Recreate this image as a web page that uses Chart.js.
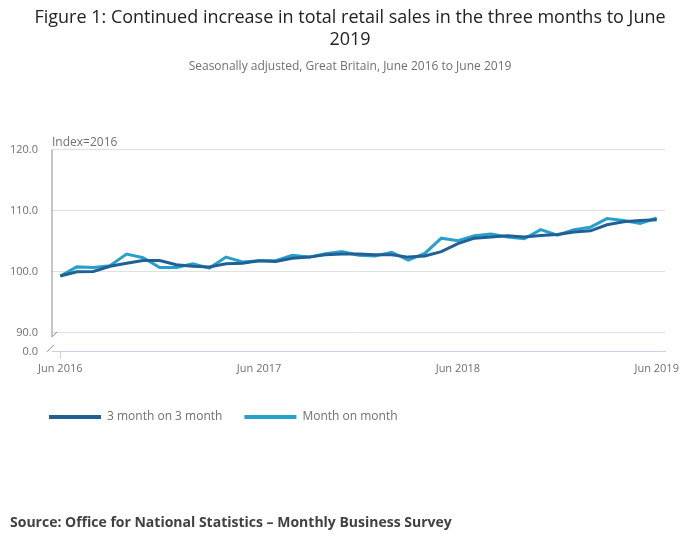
<!DOCTYPE html>
<html>
<head>
<meta charset="utf-8">
<script src="https://cdn.jsdelivr.net/npm/chart.js@4"></script>
<style>
  body { margin: 0; background: #fff; }
  #wrap { position: relative; width: 700px; height: 549px; }
  #source { position: absolute; left: 10px; top: 512px; font: bold 14px "Open Sans", sans-serif; color: #414042; }
</style>
</head>
<body>
<div id="wrap">
  <canvas id="retailChart"></canvas>
  <div id="source">Source: Office for National Statistics – Monthly Business Survey</div>
</div>
<script>
var months = ['Jun 2016','Jul 2016','Aug 2016','Sep 2016','Oct 2016','Nov 2016','Dec 2016',
  'Jan 2017','Feb 2017','Mar 2017','Apr 2017','May 2017','Jun 2017','Jul 2017','Aug 2017','Sep 2017','Oct 2017','Nov 2017','Dec 2017',
  'Jan 2018','Feb 2018','Mar 2018','Apr 2018','May 2018','Jun 2018','Jul 2018','Aug 2018','Sep 2018','Oct 2018','Nov 2018','Dec 2018',
  'Jan 2019','Feb 2019','Mar 2019','Apr 2019','May 2019','Jun 2019'];

var threeMonth = [99.3, 100.0, 100.05, 100.9, 101.4, 101.85, 101.85,
  101.15, 100.9, 100.8, 101.3, 101.4, 101.8, 101.7, 102.2, 102.4, 102.8, 102.9, 102.9,
  102.8, 102.8, 102.4, 102.6, 103.3, 104.6, 105.5, 105.7, 105.9, 105.7, 105.95, 106.1,
  106.5, 106.7, 107.7, 108.2, 108.4, 108.5];

var monthOnMonth = [99.3, 100.8, 100.7, 101.0, 102.9, 102.3, 100.7,
  100.7, 101.3, 100.6, 102.4, 101.6, 101.8, 101.8, 102.7, 102.4, 102.95, 103.3, 102.7,
  102.6, 103.2, 101.9, 103.0, 105.5, 105.1, 105.9, 106.2, 105.7, 105.4, 106.9, 106.0,
  106.9, 107.3, 108.7, 108.4, 107.9, 108.8];

var xTickLabels = ['Jun 2016', 'Jun 2017', 'Jun 2018', 'Jun 2019'];
var yTicks = [90, 100, 110, 120];
var yBreak = 86.9; // where the "0.0" sits below the axis break

var darkBlue = '#206095';
var lightBlue = '#27a0cc';

// y axis line with the little break marks, plus the "Index=2016" label
var axisExtras = {
  id: 'axisExtras',
  afterLayout: function(chart) {
    // nudge the legend right so it starts under the axis
    chart.legend.left += 17;
  },
  afterDraw: function(chart) {
    var ctx = chart.ctx;
    var area = chart.chartArea;
    var y = chart.scales.y;
    var x0 = area.left;
    var y90 = y.getPixelForValue(90);
    ctx.save();
    ctx.strokeStyle = '#8c8c8c';
    ctx.lineWidth = 1;
    ctx.beginPath();
    ctx.moveTo(x0, area.top);
    ctx.lineTo(x0, y90 + 4);
    ctx.lineTo(x0 + 5, y90 - 1);
    ctx.moveTo(x0 - 5, area.bottom);
    ctx.lineTo(x0 + 2, area.bottom - 7);
    ctx.stroke();
    ctx.fillStyle = '#707070';
    ctx.font = '12px "Open Sans"';
    ctx.textBaseline = 'bottom';
    ctx.textAlign = 'left';
    ctx.fillText('Index=2016', x0, area.top - 1);
    ctx.restore();
  }
};

var config = {
  type: 'line',
  data: {
    labels: months,
    datasets: [
      { label: '3 month on 3 month', data: threeMonth, borderColor: darkBlue, backgroundColor: darkBlue },
      { label: 'Month on month', data: monthOnMonth, borderColor: lightBlue, backgroundColor: lightBlue }
    ]
  },
  options: {
    responsive: true,
    maintainAspectRatio: false,
    animation: false,
    elements: {
      line: { borderWidth: 3, tension: 0 },
      point: { radius: 0 }
    },
    layout: { padding: { left: 10, right: 10, bottom: 116 } },
    plugins: {
      title: {
        display: true,
        text: ['Figure 1: Continued increase in total retail sales in the three months to June', '2019'],
        color: '#222222',
        font: { family: 'Open Sans', size: 18, weight: 'normal', lineHeight: 1.2 },
        padding: { top: 7, bottom: 6 }
      },
      subtitle: {
        display: true,
        text: 'Seasonally adjusted, Great Britain, June 2016 to June 2019',
        color: '#707070',
        font: { family: 'Open Sans', size: 12 },
        padding: { top: 3, bottom: 76 }
      },
      legend: {
        position: 'bottom',
        align: 'start',
        labels: {
          boxWidth: 52,
          boxHeight: 4,
          padding: 22,
          color: '#707070',
          font: { family: 'Open Sans', size: 12 },
          generateLabels: function(chart) {
            return chart.data.datasets.map(function(ds, i) {
              return { text: ds.label, fillStyle: ds.borderColor, strokeStyle: ds.borderColor, lineWidth: 0, datasetIndex: i, fontColor: '#707070' };
            });
          }
        }
      },
      tooltip: { enabled: false }
    },
    scales: {
      x: {
        offset: true,
        afterFit: function(axis) {
          axis.paddingRight = 35;
          axis.height += 11;
        },
        border: { color: '#c6d4e8' },
        grid: {
          offset: false,
          drawOnChartArea: false,
          tickLength: 7,
          color: function(c) { return xTickLabels.indexOf(months[c.index]) >= 0 ? '#c6d4e8' : 'rgba(0,0,0,0)'; }
        },
        ticks: {
          autoSkip: false,
          maxRotation: 0,
          color: '#707070',
          font: { family: 'Open Sans', size: 11 },
          callback: function(v, i) { return xTickLabels.indexOf(months[i]) >= 0 ? months[i] : null; }
        }
      },
      y: {
        min: yBreak,
        max: 120,
        afterBuildTicks: function(axis) {
          axis.ticks = [{ value: yBreak }].concat(yTicks.map(function(v) { return { value: v }; }));
        },
        afterFit: function(axis) { axis.width = 42; },
        border: { display: false },
        grid: {
          drawTicks: false,
          color: function(c) { return c.tick && c.tick.value < 90 ? 'rgba(0,0,0,0)' : '#e0e0e0'; }
        },
        ticks: {
          padding: 14,
          color: '#707070',
          font: { family: 'Open Sans', size: 11 },
          callback: function(v) { return v < 90 ? '0.0' : v.toFixed(1); }
        }
      }
    }
  },
  plugins: [axisExtras]
};

new Chart(document.getElementById('retailChart'), config);
</script>
</body>
</html>
